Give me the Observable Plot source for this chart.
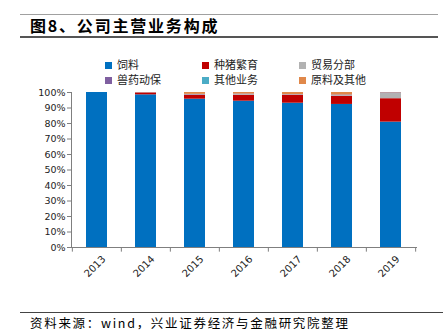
<!DOCTYPE html>
<html><head><meta charset="utf-8">
<script src="https://cdn.jsdelivr.net/npm/d3@7"></script>
<script src="https://cdn.jsdelivr.net/npm/@observablehq/plot@0.6"></script>
<style>
body{margin:0;background:#fff;width:443px;height:331px;position:relative;overflow:hidden;font-family:"Noto Sans CJK SC",sans-serif;color:#000}
.hl{position:absolute;left:20px;width:418px;height:0}
#topline{top:14px;border-top:1px solid #a0a0a0}
#botline{top:36px;border-top:2px solid #555}
#title{position:absolute;left:30px;top:15px;font-size:16px;font-weight:bold;line-height:20px;letter-spacing:1.8px}
#legend{position:absolute;left:0;top:58px;width:443px;height:30px}
.li{position:absolute;font-size:11px;line-height:12px;color:#222;white-space:nowrap}
.sw{display:inline-block;width:7px;height:7px;margin-right:5px;vertical-align:0px}
#chart{position:absolute;left:0;top:85px}
#footline{position:absolute;left:20px;width:423px;top:312px;border-top:1px solid #444}
#foot{position:absolute;left:30px;top:315px;font-size:12.5px;line-height:15px;letter-spacing:1.7px;white-space:nowrap}
</style></head>
<body>
<div id="topline" class="hl"></div>
<div id="title">图8、公司主营业务构成</div>
<div id="botline" class="hl"></div>
<div id="legend"></div>
<div id="chart"></div>
<div id="footline"></div>
<div id="foot">资料来源：wind，兴业证券经济与金融研究院整理</div>
<script>
const years = ["2013","2014","2015","2016","2017","2018","2019"];
const series = ["饲料","种猪繁育","贸易分部","兽药动保","其他业务","原料及其他"];
const colors = ["#0070C0","#C00000","#B2B2B2","#7F5FA0","#4BACC6","#E0884A"];
const feed     = [100, 98.5, 95.7, 94.4, 93.1, 92.3, 80.9];
const pig      = [0,   1.2,  2.5,  3.8,  5.0,  5.2,  15.1];
const trade    = [0,   0.1,  0.3,  0.5,  0.3,  0.5,  3.3];
const vet      = [0,   0.1,  0.2,  0.3,  0.2,  0.4,  0.4];
const otherBiz = [0,   0,    0.1,  0,    0,    0,    0.1];
const raw      = [0,   0.1,  1.2,  1.0,  1.4,  1.6,  0.2];
const yTicks = [0,10,20,30,40,50,60,70,80,90,100];

const cols = [feed,pig,trade,vet,otherBiz,raw];
const rows = [];
years.forEach((yr,i)=>series.forEach((s,j)=>rows.push({year:yr,series:s,value:cols[j][i]})));

// legend
const legPos = [[105,0],[202,0],[299,0],[105,15],[202,15],[299,15]];
const leg = document.getElementById("legend");
series.forEach((s,j)=>{
  const d=document.createElement("div");d.className="li";
  d.style.left=legPos[j][0]+"px";d.style.top=legPos[j][1]+"px";
  d.innerHTML=`<span class="sw" style="background:${colors[j]}"></span>${s}`;
  leg.appendChild(d);
});

const W=443,H=215,mL=71,mR=27,mT=7,mB=53,pIn=0.57;
const step=(W-mL-mR)/years.length;
const axisColor="#7f7f7f";
const chart = Plot.plot({
  width:W,height:H,marginLeft:mL,marginRight:mR,marginTop:mT,marginBottom:mB,
  style:{fontFamily:"DejaVu Sans, sans-serif",fontSize:"9.5px",color:"#222",background:"#fff"},
  x:{domain:years,paddingInner:pIn,paddingOuter:pIn/2,label:null},
  y:{domain:[0,100],label:null},
  color:{domain:series,range:colors},
  marks:[
    Plot.barY(rows,Plot.stackY({x:"year",y:"value",fill:"series",order:series})),
    Plot.frame({anchor:"left",stroke:axisColor}),
    Plot.frame({anchor:"bottom",stroke:axisColor}),
    Plot.axisY({ticks:yTicks,tickFormat:d=>d+"%",tickSize:4,tickPadding:2,stroke:axisColor,label:null}),
    Plot.axisX({tickSize:0,tickRotate:-45,tickPadding:10,dx:7,fontSize:10,label:null}),
    Plot.ruleX(years,{x:d=>d,y1:0,y2:-3,dx:-step/2,stroke:axisColor}),
    Plot.ruleX(years.slice(-1),{x:d=>d,y1:0,y2:-3,dx:step/2,stroke:axisColor})
  ]
});
document.getElementById("chart").appendChild(chart);
</script>
</body></html>
